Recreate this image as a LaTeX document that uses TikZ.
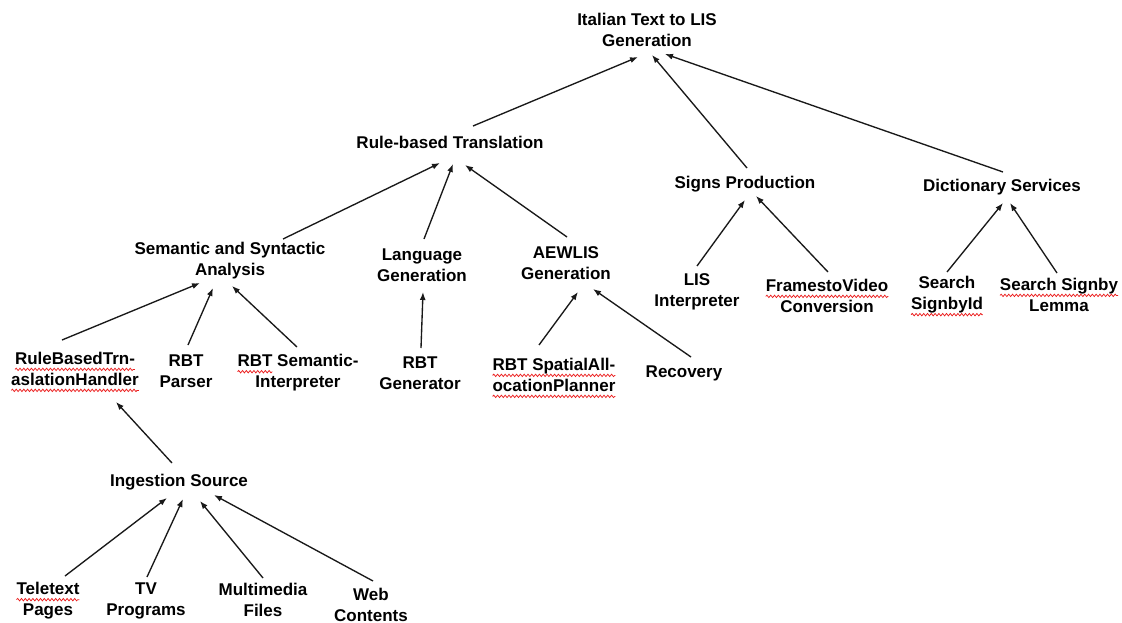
\documentclass[tikz,border=0pt]{standalone}
\usepackage{fontspec}
\setmainfont{Liberation Sans}
\usetikzlibrary{arrows.meta,decorations.pathmorphing}
\definecolor{spellred}{RGB}{235,30,30}
\definecolor{linkgray}{RGB}{25,25,25}
% red wavy underline beneath a word
\newsavebox\wavybox
\newcommand\wavy[1]{\sbox\wavybox{#1}\rlap{\tikz[overlay,baseline=0pt]\draw[spellred,line width=0.75pt,decorate,decoration={snake,amplitude=1.2pt,segment length=3.8pt}] (0pt,-4.8pt) -- (\wd\wavybox,-4.8pt);}\usebox\wavybox}

\begin{document}
\begin{tikzpicture}[x=1pt,y=-1pt,
  lbl/.style={align=center,inner sep=0pt,font=\fontsize{17}{21}\selectfont\bfseries},
  link/.style={draw=linkgray,line width=1.35pt,-{Latex[length=8pt,width=6pt]}}]
\useasboundingbox (0,0) rectangle (1122,623);

% labels
\node[lbl] (title)   at (647,30)  {Italian Text to LIS\\Generation};
\node[lbl] (rbt)     at (450,142) {Rule-based Translation};
\node[lbl] (signs)   at (745,184) {Signs Production};
\node[lbl] (dict)    at (1002,187) {Dictionary Services};
\node[lbl] (sem)     at (230,261) {Semantic and Syntactic\\Analysis};
\node[lbl] (lang)    at (422,265) {Language\\Generation};
\node[lbl] (aew)     at (566,263) {AEWLIS\\Generation};
\node[lbl] (lisi)    at (697,292) {LIS\\Interpreter};
\node[lbl] (frames)  at (827,296) {\wavy{FramestoVideo}\\Conversion};
\node[lbl] (sid)     at (947,295) {Search\\\wavy{SignbyId}};
\node[lbl] (slem)    at (1059,295) {\wavy{Search Signby}\\Lemma};
\node[lbl] (rbth)    at (75,369)  {\wavy{RuleBasedTrn-}\\\wavy{aslationHandler}};
\node[lbl] (parser)  at (186,371) {RBT\\Parser};
\node[lbl] (semint)  at (298,373) {\wavy{RBT} Semantic-\\Interpreter};
\node[lbl] (gen)     at (420,373) {RBT\\Generator};
\node[lbl] (spatial) at (554,375) {\wavy{RBT SpatialAll-}\\\wavy{ocationPlanner}};
\node[lbl] (recov)   at (684,373) {Recovery};
\node[lbl] (ing)     at (179,482) {Ingestion Source};
\node[lbl] (tele)    at (48,601)  {\wavy{Teletext}\\Pages};
\node[lbl] (tv)      at (146,601) {TV\\Programs};
\node[lbl] (mm)      at (263,600) {Multimedia\\Files};
\node[lbl] (web)     at (371,605) {Web\\Contents};

% links, child -> parent
\draw[link] ([shift={(23,-16)}]rbt.center)    -- ([shift={(-9,27)}]title.center);
\draw[link] ([shift={(2,-16)}]signs.center)   -- ([shift={(5,25)}]title.center);
\draw[link] ([shift={(1,-15)}]dict.center)    -- ([shift={(18,24)}]title.center);
\draw[link] ([shift={(53,-22)}]sem.center)    -- ([shift={(-10,21)}]rbt.center);
\draw[link] ([shift={(2,-26)}]lang.center)    -- ([shift={(3,22)}]rbt.center);
\draw[link] ([shift={(1,-26)}]aew.center)     -- ([shift={(15,23)}]rbt.center);
\draw[link] ([shift={(0,-26)}]lisi.center)    -- ([shift={(0,16)}]signs.center);
\draw[link] ([shift={(1,-24)}]frames.center)  -- ([shift={(11,12)}]signs.center);
\draw[link] ([shift={(0,-23)}]sid.center)     -- ([shift={(1,16)}]dict.center);
\draw[link] ([shift={(-2,-22)}]slem.center)   -- ([shift={(8,16)}]dict.center);
\draw[link] ([shift={(-13,-29)}]rbth.center)  -- ([shift={(-30,22)}]sem.center);
\draw[link] ([shift={(2,-26)}]parser.center)  -- ([shift={(-17,27)}]sem.center);
\draw[link] ([shift={(-1,-26)}]semint.center) -- ([shift={(2,25)}]sem.center);
\draw[link] ([shift={(1,-25)}]gen.center)     -- ([shift={(1,27)}]lang.center);
\draw[link] ([shift={(-15,-30)}]spatial.center) -- ([shift={(12,29)}]aew.center);
\draw[link] ([shift={(7,-16)}]recov.center)   -- ([shift={(27,26)}]aew.center);
\draw[link] ([shift={(-7,-19)}]ing.center)    -- ([shift={(41,33)}]rbth.center);
\draw[link] ([shift={(17,-25)}]tele.center)   -- ([shift={(-12,16)}]ing.center);
\draw[link] ([shift={(1,-24)}]tv.center)      -- ([shift={(4,17)}]ing.center);
\draw[link] ([shift={(0,-22)}]mm.center)      -- ([shift={(21,19)}]ing.center);
\draw[link] ([shift={(2,-24)}]web.center)     -- ([shift={(35,13)}]ing.center);
\end{tikzpicture}
\end{document}
